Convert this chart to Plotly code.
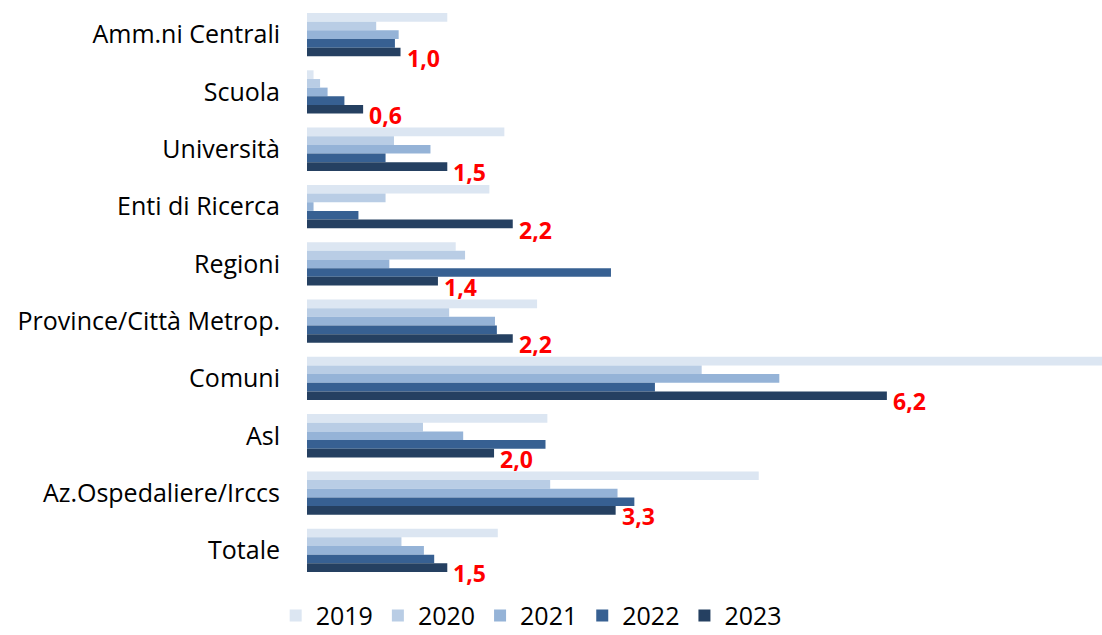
import plotly.graph_objects as go

categories = [
    "Amm.ni Centrali", "Scuola", "Università", "Enti di Ricerca", "Regioni",
    "Province/Città Metrop.", "Comuni", "Asl", "Az.Ospedaliere/Irccs", "Totale",
]
years = ["2019", "2020", "2021", "2022", "2023"]

v2019 = [1.50, 0.07, 2.11, 1.95, 1.59, 2.46, 8.50, 2.57, 4.83, 2.04]
v2020 = [0.74, 0.14, 0.93, 0.84, 1.69, 1.52, 4.22, 1.24, 2.60, 1.01]
v2021 = [0.98, 0.22, 1.32, 0.07, 0.88, 2.01, 5.05, 1.67, 3.32, 1.25]
v2022 = [0.94, 0.40, 0.84, 0.55, 3.25, 2.03, 3.72, 2.55, 3.50, 1.36]
v2023 = [1.0, 0.6, 1.5, 2.2, 1.4, 2.2, 6.2, 2.0, 3.3, 1.5]

series = [v2019, v2020, v2021, v2022, v2023]
colors = ["#dce6f2", "#b9cde5", "#95b3d7", "#376092", "#254061"]

fig = go.Figure()
for year, vals, col in zip(years, series, colors):
    fig.add_trace(go.Bar(
        y=categories, x=vals, name=year, orientation="h",
        marker=dict(color=col, line=dict(width=0)),
    ))

# red value labels for the latest year, just right of and below each bar end
for cat, val in zip(categories, v2023):
    fig.add_annotation(
        x=val, y=cat, text=f"{val:.1f}".replace(".", ","),
        showarrow=False, xanchor="left", yanchor="middle",
        xshift=4, yshift=-23,
        font=dict(family="Open Sans", size=23, color="#ff0000", weight="bold"),
    )

fig.update_layout(
    barmode="group",
    bargap=0.245,
    bargroupgap=0,
    width=1102, height=635,
    margin=dict(l=307, r=0, t=6, b=56, autoexpand=False),
    plot_bgcolor="white",
    paper_bgcolor="white",
    font=dict(family="Open Sans", color="#000000"),
    legend=dict(
        orientation="h", x=0.282, xanchor="center",
        y=-0.064, yanchor="middle",
        font=dict(size=25), traceorder="normal",
    ),
    showlegend=True,
)
fig.update_xaxes(range=[0, 8.5], visible=False, showgrid=False, automargin=False)
fig.update_yaxes(
    range=[len(categories) - 0.5, -0.5], autorange=False,
    showgrid=False, showline=False, ticks="", automargin=False,
    tickfont=dict(size=25, family="Open Sans"), ticklabelstandoff=26,
)

fig.write_html("out.html")
